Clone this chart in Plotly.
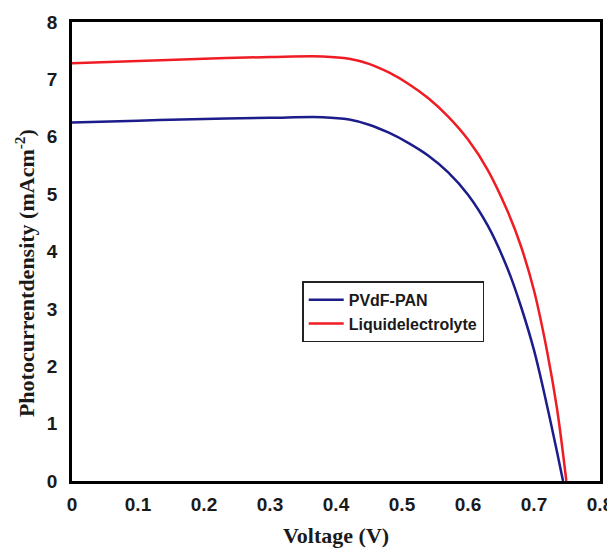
import plotly.graph_objects as go

# Data
v_pvdf = [0, 0.1, 0.2, 0.3, 0.38, 0.42, 0.45, 0.48, 0.51, 0.54, 0.57, 0.60, 0.63, 0.66, 0.68, 0.70, 0.72, 0.735, 0.744]
j_pvdf = [6.25, 6.28, 6.31, 6.33, 6.34, 6.30, 6.21, 6.07, 5.89, 5.67, 5.38, 4.99, 4.45, 3.70, 3.05, 2.28, 1.30, 0.50, 0.0]

v_liq = [0, 0.1, 0.2, 0.3, 0.38, 0.42, 0.45, 0.48, 0.51, 0.54, 0.57, 0.60, 0.63, 0.66, 0.68, 0.70, 0.72, 0.735, 0.749]
j_liq = [7.28, 7.32, 7.36, 7.39, 7.40, 7.36, 7.27, 7.12, 6.92, 6.67, 6.35, 5.95, 5.42, 4.70, 4.10, 3.32, 2.25, 1.25, 0.0]

x_ticks = [0, 0.1, 0.2, 0.3, 0.4, 0.5, 0.6, 0.7, 0.8]
x_labels = ["0", "0.1", "0.2", "0.3", "0.4", "0.5", "0.6", "0.7", "0.8"]
y_ticks = [0, 1, 2, 3, 4, 5, 6, 7, 8]

tick_font = dict(family="Liberation Sans Narrow, Arial Narrow, Liberation Sans, Arial", size=19, color="#1a1a1a")
title_font = dict(family="Liberation Serif, Times New Roman, serif", size=22, color="#1a1a1a")

fig = go.Figure()
fig.add_trace(go.Scatter(x=v_pvdf, y=j_pvdf, mode="lines", name="<b>PVdF-PAN</b>",
                         line=dict(color="#1c1c8a", width=2.5, shape="spline", smoothing=1.0)))
fig.add_trace(go.Scatter(x=v_liq, y=j_liq, mode="lines", name="<b>Liquidelectrolyte</b>",
                         line=dict(color="#f01c24", width=2.5, shape="spline", smoothing=1.0)))

# The page body has an 8px margin, so the figure is sized/margined to land
# the plot frame at the reference pixel positions.
fig.update_layout(
    width=607, height=540,
    margin=dict(l=64, r=15, t=14, b=67),
    paper_bgcolor="white", plot_bgcolor="white",
    showlegend=True,
    legend=dict(x=0.436, y=0.435, xanchor="left", yanchor="top",
                bordercolor="#222", borderwidth=1.5, bgcolor="white",
                font=dict(family="Liberation Sans, Arial", size=16, color="#1a1a1a"),
                itemwidth=35),
    xaxis=dict(range=[0, 0.8], tickvals=x_ticks, ticktext=["<b>%s</b>" % t for t in x_labels],
               showgrid=False, zeroline=False, showline=True, linecolor="black", linewidth=2.5,
               mirror=True, ticks="", tickfont=tick_font, ticklabelstandoff=4, automargin=False),
    yaxis=dict(range=[0, 8], tickvals=y_ticks, ticktext=["<b>%d</b>" % t for t in y_ticks],
               showgrid=False, zeroline=False, showline=True, linecolor="black", linewidth=2.5,
               mirror=True, ticks="", tickfont=tick_font, ticklabelstandoff=8, automargin=False),
    annotations=[
        dict(text="<b>Voltage (V)</b>", xref="paper", yref="paper", x=0.5, y=-0.118,
             xanchor="center", yanchor="middle", showarrow=False, font=title_font),
        dict(text="<b>Photocurrentdensity (mAcm<sup>-2</sup>)</b>", xref="paper", yref="paper",
             x=-0.089, y=0.453, xanchor="center", yanchor="middle", textangle=-90,
             showarrow=False, font=title_font),
    ],
)

fig.write_html("out.html")
